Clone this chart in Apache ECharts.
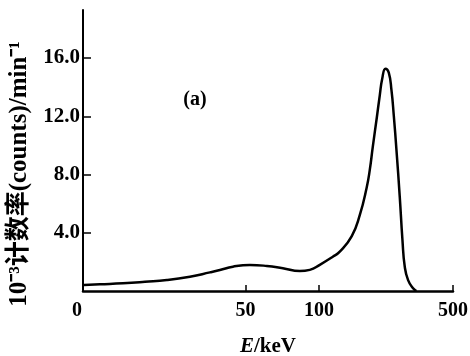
<!DOCTYPE html>
<html>
<head>
<meta charset="utf-8">
<script src="https://cdn.jsdelivr.net/npm/echarts@6/dist/echarts.min.js"></script>
<style>
  html, body { margin: 0; padding: 0; background: #fff; }
  #chart { width: 470px; height: 356px; }
</style>
</head>
<body>
<div id="chart"></div>
<script>
// x axis is drawn as a position scale (0..100) since the printed energy axis is not uniform
const xTickPos    = [0, 43.94, 63.8, 100];
const xTickLabels = ["0", "50", "100", "500"];
const yTicks      = [4, 8, 12, 16];

// curve: [axis position, 10^-3 counts/min]
const xPos = [0.27, 4.59, 10.8, 16.74, 22.68, 28.9, 34.3, 37.0, 40.51, 45.1,
              49.69, 54.01, 58.6, 61.3, 64.0, 67.51, 69.4, 72.64, 74.8, 76.69,
              77.5, 78.31, 79.4, 80.21, 80.88, 81.74, 82.64, 83.37, 83.99, 84.72,
              85.61, 86.34, 86.96, 87.86, 89.21, 90.12];
const rate = [0.41, 0.46, 0.53, 0.63, 0.75, 0.98, 1.28, 1.44, 1.67, 1.79,
              1.72, 1.56, 1.37, 1.45, 1.8, 2.35, 2.7, 3.77, 5.21, 7.13,
              8.3, 9.88, 11.9, 13.44, 14.6, 15.27, 15.0, 13.79, 12.07, 9.68,
              6.47, 3.5, 1.67, 0.75, 0.19, 0.0];

const serif = '"Liberation Serif", "Noto Sans CJK SC", serif';

const dom = document.getElementById("chart");
const myChart = echarts.init(dom, null, { renderer: "canvas" });

const option = {
  animation: false,
  grid: { left: 83, right: 17, top: 10, bottom: 65, containLabel: false, outerBoundsMode: "none" },
  xAxis: {
    type: "value",
    min: 0,
    max: 100,
    name: "{i|E}/keV",
    nameLocation: "middle",
    nameGap: 45,
    nameTextStyle: {
      color: "#000", fontFamily: serif, fontWeight: "bold", fontSize: 21,
      rich: {
        i: { fontStyle: "italic", fontFamily: serif, fontWeight: "bold", fontSize: 21, color: "#000" }
      }
    },
    axisLine: { lineStyle: { color: "#000", width: 2.5 } },
    axisTick: { inside: true, length: 6, lineStyle: { color: "#000", width: 1.5 }, customValues: xTickPos.slice(1) },
    axisLabel: {
      customValues: xTickPos,
      margin: 10,
      color: "#000",
      fontFamily: serif,
      fontWeight: "bold",
      fontSize: 20,
      formatter: (v) => {
        const i = xTickPos.indexOf(v);
        if (i < 0) return "";
        return i === 0 ? "{z|" + xTickLabels[i] + "}" : xTickLabels[i];
      },
      rich: {
        z: { padding: [0, 12, 0, 0], fontFamily: serif, fontWeight: "bold", fontSize: 20, color: "#000" }
      }
    },
    splitLine: { show: false }
  },
  yAxis: {
    type: "value",
    min: 0,
    max: 19.3,
    interval: 4,
    axisLine: { show: true, lineStyle: { color: "#000", width: 2 } },
    axisTick: { show: true, inside: true, length: 8, lineStyle: { color: "#000", width: 1.5 }, customValues: yTicks },
    axisLabel: {
      customValues: yTicks,
      margin: 3,
      color: "#000",
      fontFamily: serif,
      fontWeight: "bold",
      fontSize: 21,
      formatter: (v) => v.toFixed(1)
    },
    splitLine: { show: false }
  },
  graphic: [
    {
      type: "text",
      x: 20,
      y: 174,
      rotation: Math.PI / 2,
      style: {
        text: "10⁻³计数率(counts)/min⁻¹",
        font: 'bold 25px "Liberation Serif", "Noto Sans CJK SC", serif',
        fill: "#000",
        align: "center",
        verticalAlign: "middle"
      }
    },
    {
      type: "text",
      x: 195,
      y: 100,
      style: {
        text: "(a)",
        font: 'bold 20px "Liberation Serif", serif',
        fill: "#000",
        align: "center",
        verticalAlign: "middle"
      }
    }
  ],
  series: [{
    type: "line",
    smooth: 0.5,
    showSymbol: false,
    lineStyle: { color: "#000", width: 2.5 },
    data: xPos.map((x, i) => [x, rate[i]])
  }]
};

myChart.setOption(option);
</script>
</body>
</html>
